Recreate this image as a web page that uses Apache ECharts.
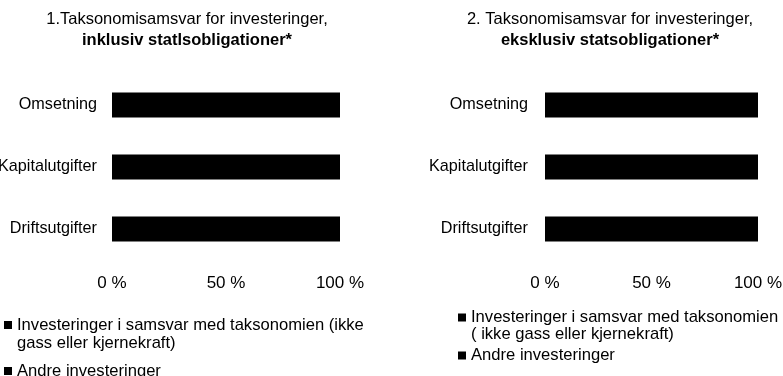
<!DOCTYPE html>
<html>
<head>
<meta charset="utf-8">
<script src="https://cdn.jsdelivr.net/npm/echarts@6/dist/echarts.min.js"></script>
<style>
  html, body { margin: 0; padding: 0; background: #ffffff; }
  #chart { width: 783px; height: 376px; }
</style>
</head>
<body>
<div id="chart"></div>
<script>
// Categories shown on both panels (top to bottom)
const categories = ['Omsetning', 'Kapitalutgifter', 'Driftsutgifter'];

// Panel 1: including government bonds (%)
const leftAligned = [100, 100, 100];
const leftOther = [0, 0, 0];

// Panel 2: excluding government bonds (%)
const rightAligned = [100, 100, 100];
const rightOther = [0, 0, 0];

// Value axis ticks
const tickValues = [0, 50, 100];

const leftTitle = ['1.Taksonomisamsvar for investeringer,', 'inklusiv statlsobligationer*'];
const rightTitle = ['2. Taksonomisamsvar for investeringer,', 'eksklusiv statsobligationer*'];

const leftAlignedName = 'Investeringer i samsvar med taksonomien (ikke\ngass eller kjernekraft)';
const rightAlignedName = 'Investeringer i samsvar med taksonomien\n( ikke gass eller kjernekraft)';
const otherName = 'Andre investeringer';

const FONT = '"Liberation Sans", Arial, Helvetica, sans-serif';
const INK = '#000000';

const chart = echarts.init(document.getElementById('chart'), null, { renderer: 'canvas' });

function titleBlock(lines, center) {
  return {
    text: '{a|' + lines[0] + '}\n{b|' + lines[1] + '}',
    left: center,
    top: 9,
    textAlign: 'center',
    padding: 0,
    textStyle: {
      fontWeight: 'normal',
      rich: {
        a: { fontFamily: FONT, fontSize: 16.5, fontWeight: 'normal', color: INK, lineHeight: 21, align: 'center' },
        b: { fontFamily: FONT, fontSize: 16.5, fontWeight: 'bold', color: INK, lineHeight: 21, align: 'center' }
      }
    }
  };
}

// Multi-line entries get a blank leading line so the marker sits beside the first line
function legendBlock(firstName, left, top, gap, lh) {
  return {
    orient: 'vertical',
    left: left,
    top: top,
    padding: 0,
    itemGap: gap,
    itemWidth: 8,
    itemHeight: 8,
    icon: 'rect',
    selectedMode: false,
    textStyle: { fontFamily: FONT, fontSize: 16.6, color: INK, lineHeight: lh },
    formatter: function (name) {
      return name.indexOf('\n') >= 0 ? ' \n' + name : name;
    },
    data: [firstName, otherName]
  };
}

function valueAxis(gridIndex) {
  return {
    type: 'value',
    gridIndex: gridIndex,
    min: tickValues[0],
    max: tickValues[tickValues.length - 1],
    interval: tickValues[1] - tickValues[0],
    axisLine: { show: false },
    axisTick: { show: false },
    splitLine: { show: false },
    axisLabel: {
      margin: 15,
      fontFamily: FONT,
      fontSize: 17,
      color: INK,
      formatter: function (v) { return v + ' %'; }
    }
  };
}

function categoryAxis(gridIndex, margin) {
  return {
    type: 'category',
    gridIndex: gridIndex,
    data: categories,
    inverse: true,
    axisLine: { show: false },
    axisTick: { show: false },
    axisLabel: { margin: margin, fontFamily: FONT, fontSize: 16.2, color: INK }
  };
}

function barSeries(name, data, axisIndex, stack) {
  return {
    type: 'bar',
    name: name,
    data: data,
    xAxisIndex: axisIndex,
    yAxisIndex: axisIndex,
    stack: stack,
    barWidth: 25,
    itemStyle: { color: INK },
    emphasis: { disabled: true },
    animation: false
  };
}

chart.setOption({
  animation: false,
  backgroundColor: '#ffffff',
  title: [titleBlock(leftTitle, 187), titleBlock(rightTitle, 610)],
  legend: [
    legendBlock(leftAlignedName, 4, 298, 10, 18),
    legendBlock(rightAlignedName, 458, 292, 4, 17)
  ],
  grid: [
    { left: 112, width: 228, top: 74, height: 186, outerBoundsMode: 'none', containLabel: false },
    { left: 545, width: 213, top: 74, height: 186, outerBoundsMode: 'none', containLabel: false }
  ],
  xAxis: [valueAxis(0), valueAxis(1)],
  yAxis: [categoryAxis(0, 15), categoryAxis(1, 17)],
  series: [
    barSeries(leftAlignedName, leftAligned, 0, 'left'),
    barSeries(otherName, leftOther, 0, 'left'),
    barSeries(rightAlignedName, rightAligned, 1, 'right'),
    barSeries(otherName, rightOther, 1, 'right')
  ]
});
</script>
</body>
</html>
